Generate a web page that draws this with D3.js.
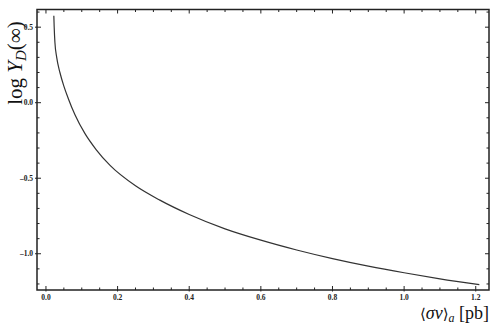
<!DOCTYPE html>
<html lang="en">
  <head>
    <meta charset="UTF-8" />
    <title>log Y_D vs sigma v</title>
    <script src="https://d3js.org/d3.v7.min.js"></script>
    <style>
      body {
        margin: 0;
        background: #fff;
      }
      .tick-label {
        font-family: "Liberation Serif", "DejaVu Serif", serif;
        font-size: 7.5px;
        font-weight: bold;
        fill: #222;
      }
      .axis-title {
        font-family: "Liberation Serif", "DejaVu Serif", serif;
        fill: #111;
      }
    </style>
  </head>
  <body>
    <div id="chart"></div>
    <script>
      // cross section <sigma v>_a [pb] and log Y_D(inf)
      const sigmaV = [0.022, 0.023, 0.025, 0.03, 0.039, 0.05, 0.062, 0.081, 0.109, 0.14, 0.179, 0.25, 0.318, 0.4, 0.5, 0.6, 0.7, 0.8, 0.9, 1.0, 1.1, 1.21];
      const logY = [0.575, 0.5, 0.4, 0.3, 0.2, 0.11, 0.03, -0.08, -0.205, -0.31, -0.415, -0.55, -0.645, -0.74, -0.835, -0.91, -0.975, -1.032, -1.082, -1.126, -1.166, -1.205];

      const xTicks = [0.0, 0.2, 0.4, 0.6, 0.8, 1.0, 1.2];
      const yTicks = [0.5, 0.0, -0.5, -1.0];

      const width = 495;
      const height = 325;
      const frame = {left: 37, right: 489, top: 9.5, bottom: 290};

      const svg = d3
        .select("#chart")
        .append("svg")
        .attr("width", width)
        .attr("height", height);

      const x = d3.scaleLinear().domain([-0.025, 1.237]).range([frame.left, frame.right]);
      const y = d3.scaleLinear().domain([-1.24, 0.617]).range([frame.bottom, frame.top]);

      const data = sigmaV.map((v, i) => ({x: v, y: logY[i]}));

      // minor ticks every 0.05 on x, 0.1 on y
      const xMinor = d3.range(0, 1.2001, 0.05).map((d) => +d.toFixed(2));
      const yMinor = d3.range(-1.2, 0.6001, 0.1).map((d) => +d.toFixed(1));
      const isMajor = (v, list) => list.some((t) => Math.abs(t - v) < 1e-6);

      const ticks = svg.append("g").attr("stroke", "#222").attr("stroke-width", 1);

      xMinor.forEach((v) => {
        const len = isMajor(v, xTicks) ? 4 : 2.5;
        const px = x(v);
        ticks.append("line").attr("x1", px).attr("x2", px)
          .attr("y1", frame.bottom + (isMajor(v, xTicks) ? 1.5 : 0)).attr("y2", frame.bottom - len);
        ticks.append("line").attr("x1", px).attr("x2", px)
          .attr("y1", frame.top).attr("y2", frame.top + len);
      });

      yMinor.forEach((v) => {
        const len = isMajor(v, yTicks) ? 4 : 2.5;
        const py = y(v);
        ticks.append("line").attr("y1", py).attr("y2", py)
          .attr("x1", frame.left - (isMajor(v, yTicks) ? 2 : 0)).attr("x2", frame.left + len);
        ticks.append("line").attr("y1", py).attr("y2", py)
          .attr("x1", frame.right).attr("x2", frame.right - len);
      });

      // frame
      svg
        .append("rect")
        .attr("x", frame.left)
        .attr("y", frame.top)
        .attr("width", frame.right - frame.left)
        .attr("height", frame.bottom - frame.top)
        .attr("fill", "none")
        .attr("stroke", "#222")
        .attr("stroke-width", 1.5);

      svg
        .selectAll(".xlab")
        .data(xTicks)
        .enter()
        .append("text")
        .attr("class", "tick-label")
        .attr("x", (d) => x(d))
        .attr("y", frame.bottom + 10)
        .attr("text-anchor", "middle")
        .text((d) => d.toFixed(1));

      svg
        .selectAll(".ylab")
        .data(yTicks)
        .enter()
        .append("text")
        .attr("class", "tick-label")
        .attr("x", frame.left - 4)
        .attr("y", (d) => y(d) + 2.5)
        .attr("text-anchor", "end")
        .text((d) => (d < 0 ? "\u2013" + Math.abs(d).toFixed(1) : d.toFixed(1)));

      // curve
      const line = d3
        .line()
        .x((d) => x(d.x))
        .y((d) => y(d.y))
        .curve(d3.curveMonotoneX);

      svg
        .append("path")
        .datum(data)
        .attr("d", line)
        .attr("fill", "none")
        .attr("stroke", "#333")
        .attr("stroke-width", 1.2);

      // y title
      const yTitle = svg
        .append("text")
        .attr("class", "axis-title")
        .attr("transform", "translate(22,63) rotate(-90)")
        .attr("text-anchor", "middle")
        .attr("font-size", "21px");
      yTitle.append("tspan").text("log ");
      yTitle.append("tspan").attr("font-style", "italic").text("Y");
      yTitle.append("tspan").attr("font-style", "italic").attr("font-size", "15px").attr("dy", 4).text("D");
      yTitle.append("tspan").attr("dy", -4).text("(\u221E)");

      // x title
      const xTitle = svg
        .append("text")
        .attr("class", "axis-title")
        .attr("x", frame.right)
        .attr("y", 319)
        .attr("text-anchor", "end")
        .attr("font-size", "18px");
      xTitle.append("tspan").attr("font-family", "DejaVu Serif").attr("font-size", "15px").text("\u27E8");
      xTitle.append("tspan").attr("font-style", "italic").text("\u03C3v");
      xTitle.append("tspan").attr("font-family", "DejaVu Serif").attr("font-size", "15px").text("\u27E9");
      xTitle.append("tspan").attr("font-style", "italic").attr("font-size", "12px").attr("dy", 3).text("a");
      xTitle.append("tspan").attr("dy", -3).text(" [pb]");
    </script>
  </body>
</html>
